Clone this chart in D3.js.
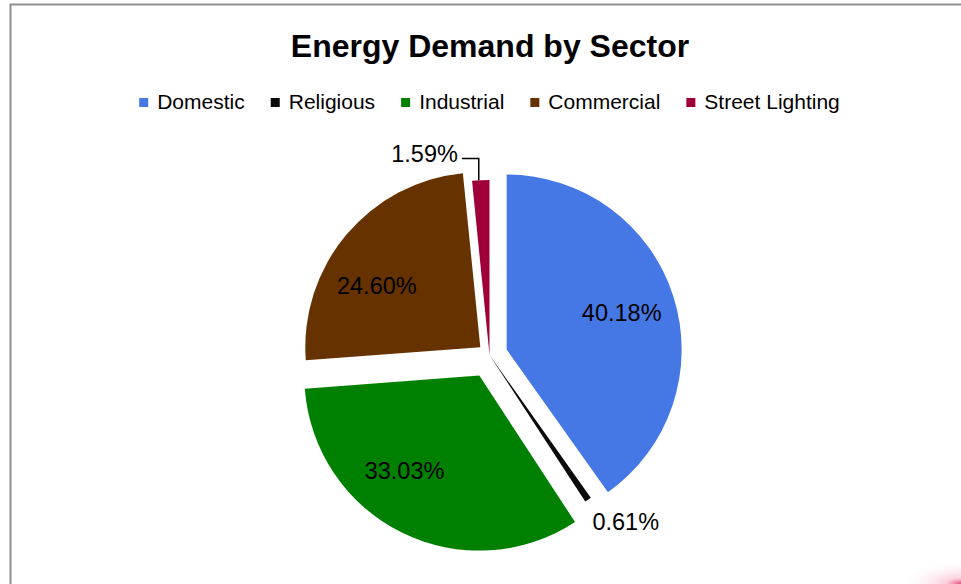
<!DOCTYPE html>
<html>
<head>
<meta charset="utf-8">
<script src="https://cdn.jsdelivr.net/npm/d3@7"></script>
<style>
  body { margin: 0; background: #fff; }
  svg { display: block; font-family: "Liberation Sans", Arial, sans-serif; }
</style>
</head>
<body>
<div id="chart"></div>
<script>
// data
const sectors = ['Domestic', 'Religious', 'Industrial', 'Commercial', 'Street Lighting']
const shares = [40.18, 0.61, 33.03, 24.60, 1.59]

// styling
const colors = ['#4678E5', '#0a0a0a', '#008000', '#663300', '#A0003A']
const explode = [18, 0, 23, 12, 0]          // px each slice is pulled out
const labelTurn = [0, -5, 12, -9, -15]      // degrees the label is turned off mid-angle
const labelDist = [0.69, 1.23, 0.69, 0.69, 1.21]
const outside = [false, true, false, false, true]

const width = 961, height = 584
const cx = 489.5, cy = 355, radius = 175

const svg = d3.select('#chart').append('svg').attr('width', width).attr('height', height)

// faint pink smear in the lower right corner
const defs = svg.append('defs')
const grad = defs.append('radialGradient').attr('id', 'corner')
    .attr('cx', 1).attr('cy', 1).attr('r', 1)
grad.append('stop').attr('offset', '0%').attr('stop-color', '#e8306a').attr('stop-opacity', .9)
grad.append('stop').attr('offset', '25%').attr('stop-color', '#f27aa0').attr('stop-opacity', .35)
grad.append('stop').attr('offset', '100%').attr('stop-color', '#ffffff').attr('stop-opacity', 0)
svg.append('rect').attr('x', 900).attr('y', 560).attr('width', 61).attr('height', 24)
    .attr('fill', 'url(#corner)')

// chart frame
svg.append('rect')
    .attr('x', 10.5).attr('y', 4.5)
    .attr('width', 1000).attr('height', 700)
    .attr('fill', 'none')
    .attr('stroke', '#8e8e8e')
    .attr('stroke-width', 2)

svg.append('text')
    .attr('x', 490).attr('y', 57)
    .attr('text-anchor', 'middle')
    .style('font-size', '32px')
    .style('font-weight', 'bold')
    .text('Energy Demand by Sector')

// legend
const legend = svg.append('g')
let lx = 0
sectors.forEach((s, i) => {
    const item = legend.append('g').attr('transform', 'translate(' + lx + ',0)')
    item.append('rect').attr('x', 0).attr('y', -11).attr('width', 9).attr('height', 9).attr('fill', colors[i])
    const t = item.append('text').attr('x', 18).attr('y', 0).style('font-size', '21px').text(s)
    lx += 18 + t.node().getComputedTextLength() + 26
})
const legendWidth = lx - 26
legend.attr('transform', 'translate(' + (489.5 - legendWidth / 2) + ',109)')

// pie
const pie = d3.pie().sort(null).value(d => d)
const arcs = pie(shares)
const arc = d3.arc().innerRadius(0).outerRadius(radius)

const mid = d => (d.startAngle + d.endAngle) / 2
const shift = (d, i) => [Math.sin(mid(d)) * explode[i], -Math.cos(mid(d)) * explode[i]]

const pieGroup = svg.append('g').attr('transform', 'translate(' + cx + ',' + cy + ')')

pieGroup.selectAll('path')
    .data(arcs)
    .enter()
    .append('path')
    .attr('transform', (d, i) => 'translate(' + shift(d, i) + ')')
    .attr('d', arc)
    .attr('fill', (d, i) => colors[i])

// labels
arcs.forEach((d, i) => {
    const off = shift(d, i)
    const a = mid(d) + labelTurn[i] * Math.PI / 180
    const r = radius * labelDist[i]
    const x = off[0] + Math.sin(a) * r
    const y = off[1] - Math.cos(a) * r
    const t = pieGroup.append('text')
        .attr('x', x).attr('y', y)
        .attr('text-anchor', 'middle')
        .attr('dy', '0.36em')
        .style('font-size', '23.5px')
        .text(shares[i].toFixed(2) + '%')

    // leader line for the small slice that sits up on the left
    if (outside[i] && Math.cos(mid(d)) > 0) {
        const w = t.node().getComputedTextLength()
        const px = off[0] + Math.sin(mid(d)) * radius - 2
        const py = off[1] - Math.cos(mid(d)) * radius
        pieGroup.append('polyline')
            .attr('points', [[x + w / 2 + 4, y + 5], [px, y + 5], [px, py]].join(' '))
            .attr('fill', 'none')
            .attr('stroke', '#000')
            .attr('stroke-width', 1.5)
    }
})
</script>
</body>
</html>
